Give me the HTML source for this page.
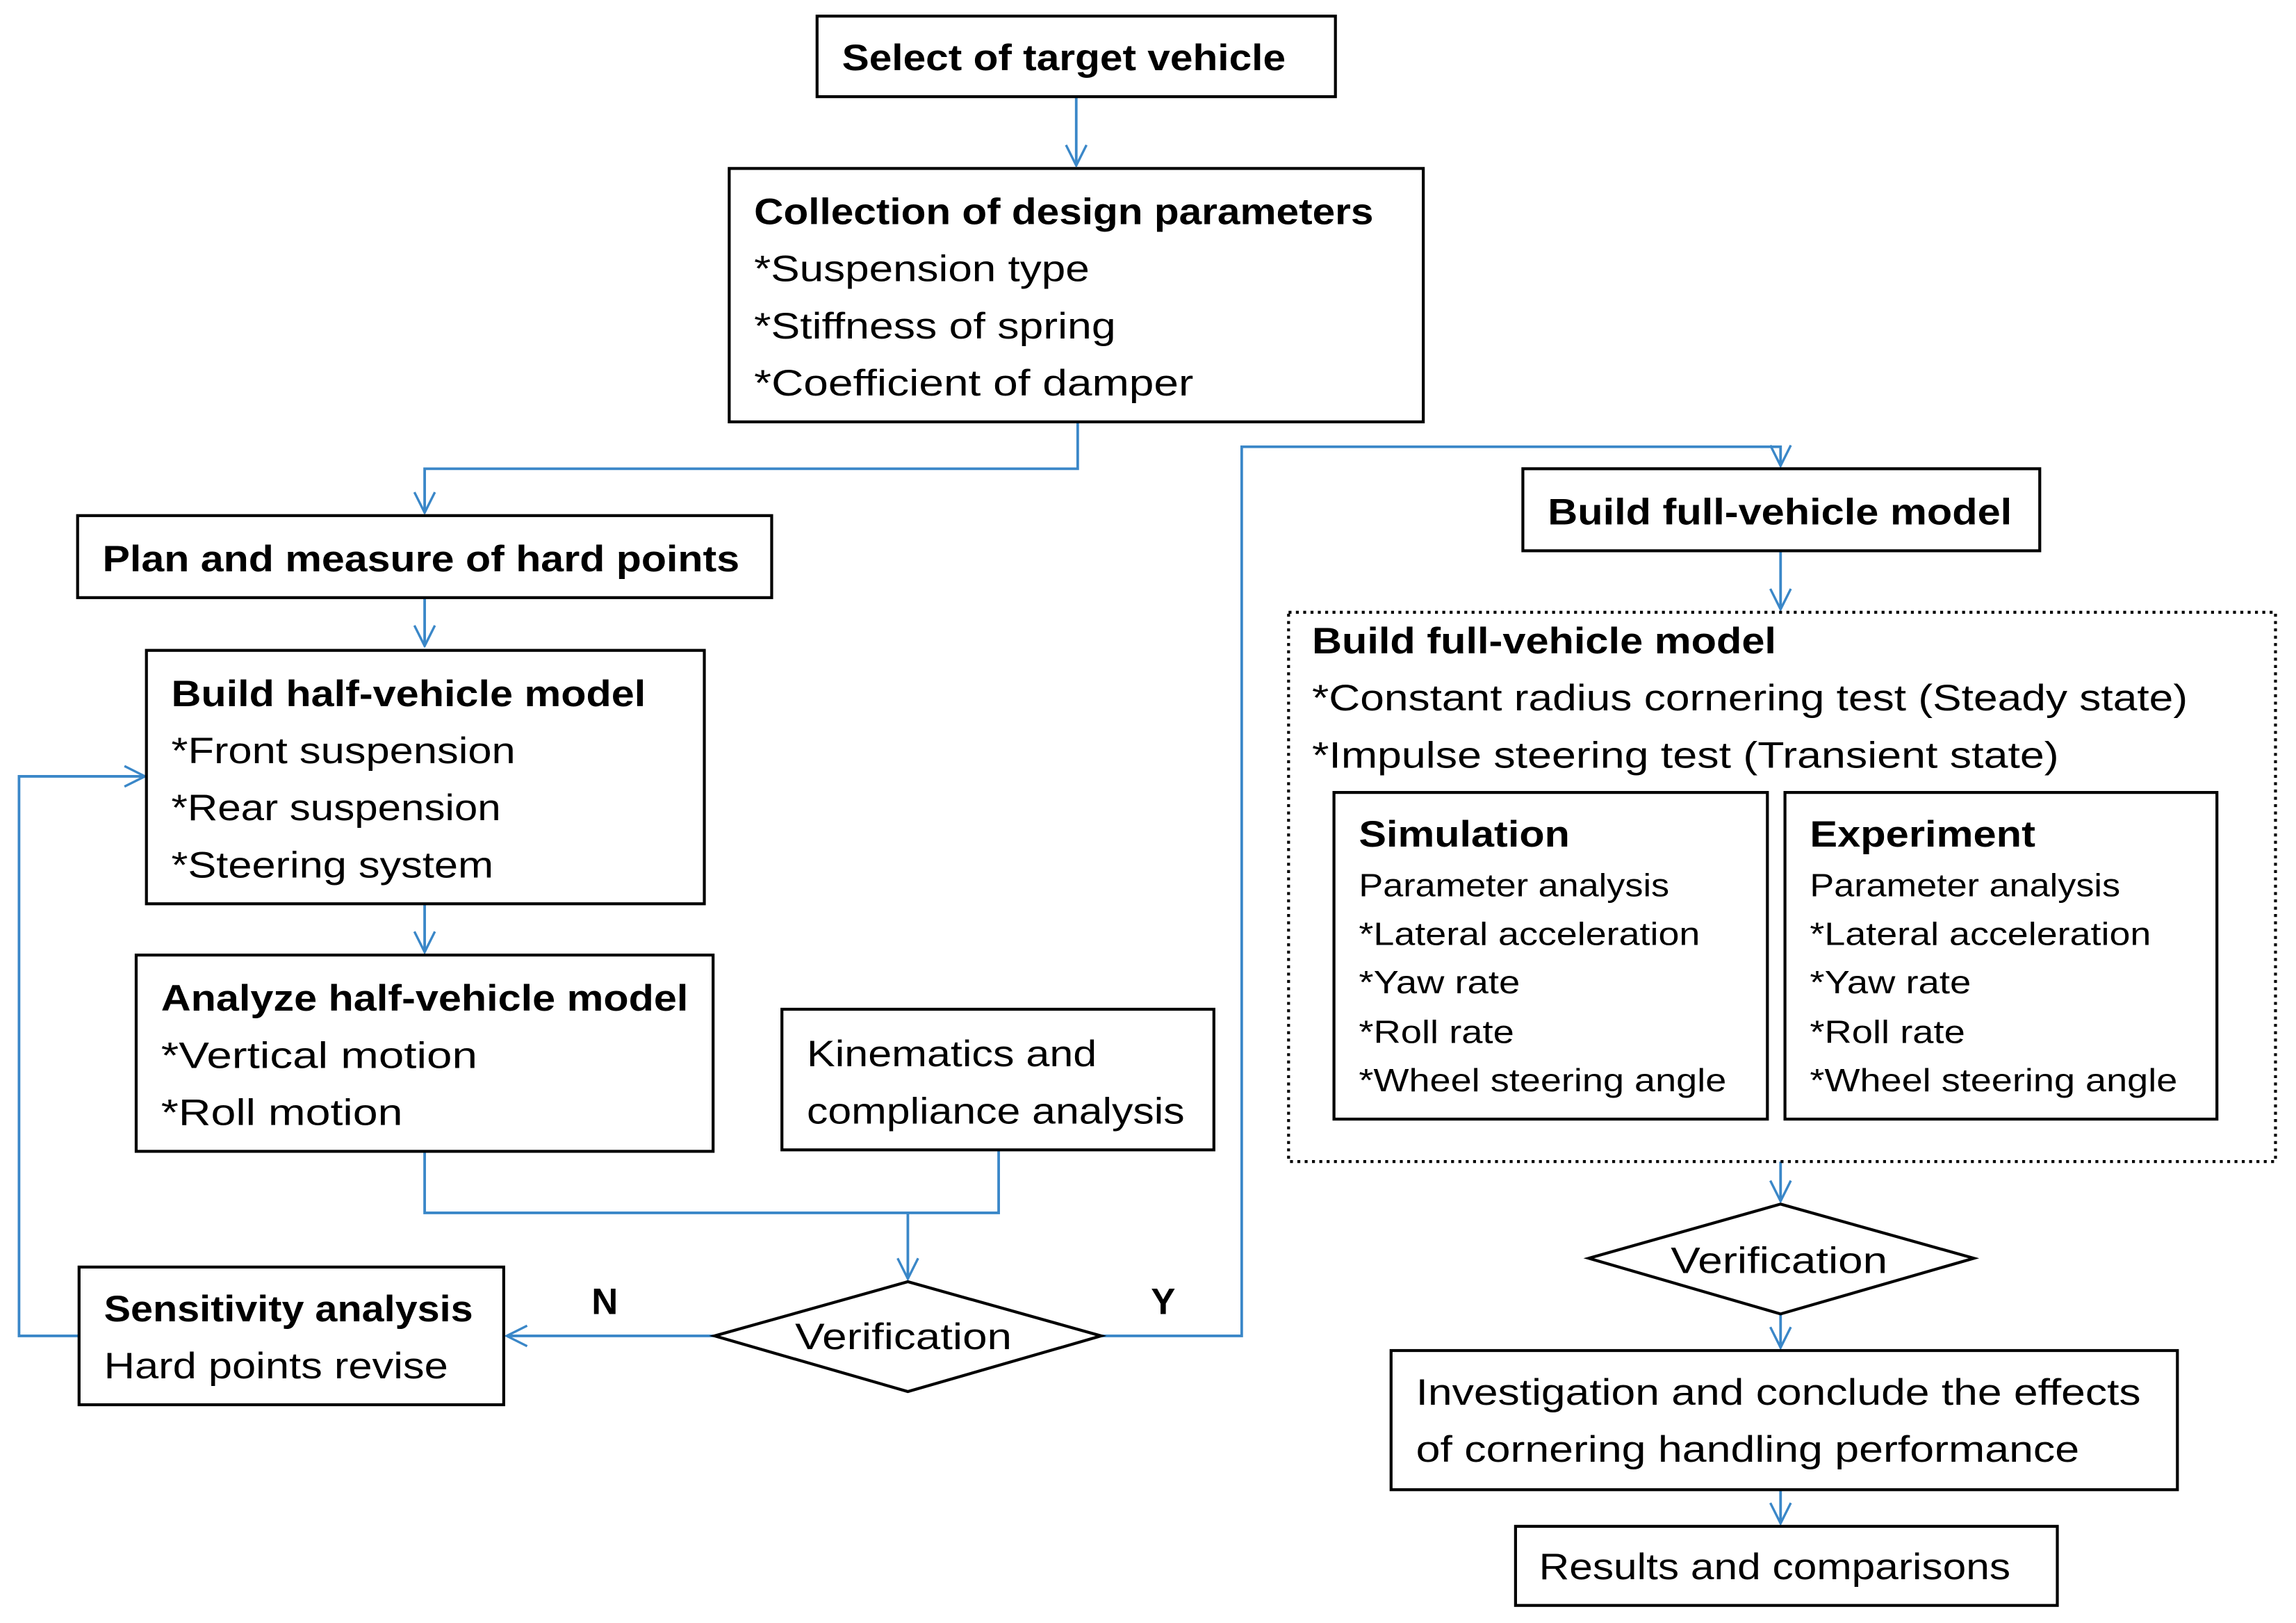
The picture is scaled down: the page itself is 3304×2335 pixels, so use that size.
<!DOCTYPE html>
<html><head><meta charset="utf-8"><style>
html,body{margin:0;padding:0;background:#fff;}
svg{display:block;}
text{font-family:"Liberation Sans",sans-serif;font-size:25px;fill:#000;}
.b{font-weight:bold;}
.s{font-size:22px;}
.bx{fill:#fff;stroke:#000;stroke-width:2;}
.ln{fill:none;stroke:#3a87c8;stroke-width:1.8;}
</style></head><body>
<svg width="3304" height="2335" viewBox="0 0 1568 1108" preserveAspectRatio="none" xmlns="http://www.w3.org/2000/svg">
<defs><marker id="a" viewBox="0 0 16 16" refX="15" refY="8" markerWidth="16" markerHeight="16" markerUnits="userSpaceOnUse" orient="auto"><polyline points="1,1 15,8 1,15" fill="none" stroke="#3a87c8" stroke-width="1.6"/></marker></defs>

<path class="ln" d="M735,66 V113" marker-end="url(#a)"/>
<path class="ln" d="M736,288 V320 H290 V350" marker-end="url(#a)"/>
<path class="ln" d="M290,408 V441" marker-end="url(#a)"/>
<path class="ln" d="M290,617 V650" marker-end="url(#a)"/>
<path class="ln" d="M290,786 V828 H682 V785"/>
<path class="ln" d="M620,828 V873" marker-end="url(#a)"/>
<path class="ln" d="M488,912 H346" marker-end="url(#a)"/>
<path class="ln" d="M54,912 H13 V530 H99" marker-end="url(#a)"/>
<path class="ln" d="M752,912 H848 V305 H1216 V318" marker-end="url(#a)"/>
<path class="ln" d="M1216,376 V416" marker-end="url(#a)"/>
<path class="ln" d="M1216,793 V820" marker-end="url(#a)"/>
<path class="ln" d="M1216,897 V920" marker-end="url(#a)"/>
<path class="ln" d="M1216,1017 V1040" marker-end="url(#a)"/>

<rect class="bx" x="558" y="11" width="354" height="55"/>
<text class="b" x="575" y="48" textLength="303" lengthAdjust="spacingAndGlyphs">Select of target vehicle</text>

<rect class="bx" x="498" y="115" width="474" height="173"/>
<text class="b" x="515" y="153" textLength="423" lengthAdjust="spacingAndGlyphs">Collection of design parameters</text>
<text x="515" y="192" textLength="229" lengthAdjust="spacingAndGlyphs">*Suspension type</text>
<text x="515" y="231" textLength="247" lengthAdjust="spacingAndGlyphs">*Stiffness of spring</text>
<text x="515" y="270" textLength="300" lengthAdjust="spacingAndGlyphs">*Coefficient of damper</text>

<rect class="bx" x="53" y="352" width="474" height="56"/>
<text class="b" x="70" y="390" textLength="435" lengthAdjust="spacingAndGlyphs">Plan and measure of hard points</text>

<rect class="bx" x="100" y="444" width="381" height="173"/>
<text class="b" x="117" y="482" textLength="324" lengthAdjust="spacingAndGlyphs">Build half-vehicle model</text>
<text x="117" y="521" textLength="235" lengthAdjust="spacingAndGlyphs">*Front suspension</text>
<text x="117" y="560" textLength="225" lengthAdjust="spacingAndGlyphs">*Rear suspension</text>
<text x="117" y="599" textLength="220" lengthAdjust="spacingAndGlyphs">*Steering system</text>

<rect class="bx" x="93" y="652" width="394" height="134"/>
<text class="b" x="110" y="690" textLength="360" lengthAdjust="spacingAndGlyphs">Analyze half-vehicle model</text>
<text x="110" y="729" textLength="216" lengthAdjust="spacingAndGlyphs">*Vertical motion</text>
<text x="110" y="768" textLength="165" lengthAdjust="spacingAndGlyphs">*Roll motion</text>

<rect class="bx" x="534" y="689" width="295" height="96"/>
<text x="551" y="728" textLength="198" lengthAdjust="spacingAndGlyphs">Kinematics and</text>
<text x="551" y="767" textLength="258" lengthAdjust="spacingAndGlyphs">compliance analysis</text>

<polygon class="bx" points="488,912 620,875 752,912 620,950"/>
<text x="543" y="921" textLength="148" lengthAdjust="spacingAndGlyphs">Verification</text>

<text class="b" x="404" y="897">N</text>
<text class="b" x="786" y="897">Y</text>

<rect class="bx" x="54" y="865" width="290" height="94"/>
<text class="b" x="71" y="902" textLength="252" lengthAdjust="spacingAndGlyphs">Sensitivity analysis</text>
<text x="71" y="941" textLength="235" lengthAdjust="spacingAndGlyphs">Hard points revise</text>

<rect class="bx" x="1040" y="320" width="353" height="56"/>
<text class="b" x="1057" y="358" textLength="317" lengthAdjust="spacingAndGlyphs">Build full-vehicle model</text>

<rect x="880" y="418" width="674" height="375" fill="none" stroke="#000" stroke-width="2" stroke-dasharray="2,3"/>
<text class="b" x="896" y="446" textLength="317" lengthAdjust="spacingAndGlyphs">Build full-vehicle model</text>
<text x="896" y="485" textLength="598" lengthAdjust="spacingAndGlyphs">*Constant radius cornering test (Steady state)</text>
<text x="896" y="524" textLength="510" lengthAdjust="spacingAndGlyphs">*Impulse steering test (Transient state)</text>

<rect class="bx" x="911" y="541" width="296" height="223"/>
<text class="b" x="928" y="578" textLength="144" lengthAdjust="spacingAndGlyphs">Simulation</text>
<text class="s" x="928" y="612" textLength="212" lengthAdjust="spacingAndGlyphs">Parameter analysis</text>
<text class="s" x="928" y="645" textLength="233" lengthAdjust="spacingAndGlyphs">*Lateral acceleration</text>
<text class="s" x="928" y="678" textLength="110" lengthAdjust="spacingAndGlyphs">*Yaw rate</text>
<text class="s" x="928" y="712" textLength="106" lengthAdjust="spacingAndGlyphs">*Roll rate</text>
<text class="s" x="928" y="745" textLength="251" lengthAdjust="spacingAndGlyphs">*Wheel steering angle</text>

<rect class="bx" x="1219" y="541" width="295" height="223"/>
<text class="b" x="1236" y="578" textLength="154" lengthAdjust="spacingAndGlyphs">Experiment</text>
<text class="s" x="1236" y="612" textLength="212" lengthAdjust="spacingAndGlyphs">Parameter analysis</text>
<text class="s" x="1236" y="645" textLength="233" lengthAdjust="spacingAndGlyphs">*Lateral acceleration</text>
<text class="s" x="1236" y="678" textLength="110" lengthAdjust="spacingAndGlyphs">*Yaw rate</text>
<text class="s" x="1236" y="712" textLength="106" lengthAdjust="spacingAndGlyphs">*Roll rate</text>
<text class="s" x="1236" y="745" textLength="251" lengthAdjust="spacingAndGlyphs">*Wheel steering angle</text>

<polygon class="bx" points="1085,859 1216,822 1348,859 1216,897"/>
<text x="1141" y="869" textLength="148" lengthAdjust="spacingAndGlyphs">Verification</text>

<rect class="bx" x="950" y="922" width="537" height="95"/>
<text x="967" y="959" textLength="495" lengthAdjust="spacingAndGlyphs">Investigation and conclude the effects</text>
<text x="967" y="998" textLength="453" lengthAdjust="spacingAndGlyphs">of cornering handling performance</text>

<rect class="bx" x="1035" y="1042" width="370" height="54"/>
<text x="1051" y="1078" textLength="322" lengthAdjust="spacingAndGlyphs">Results and comparisons</text>
</svg>
</body></html>
